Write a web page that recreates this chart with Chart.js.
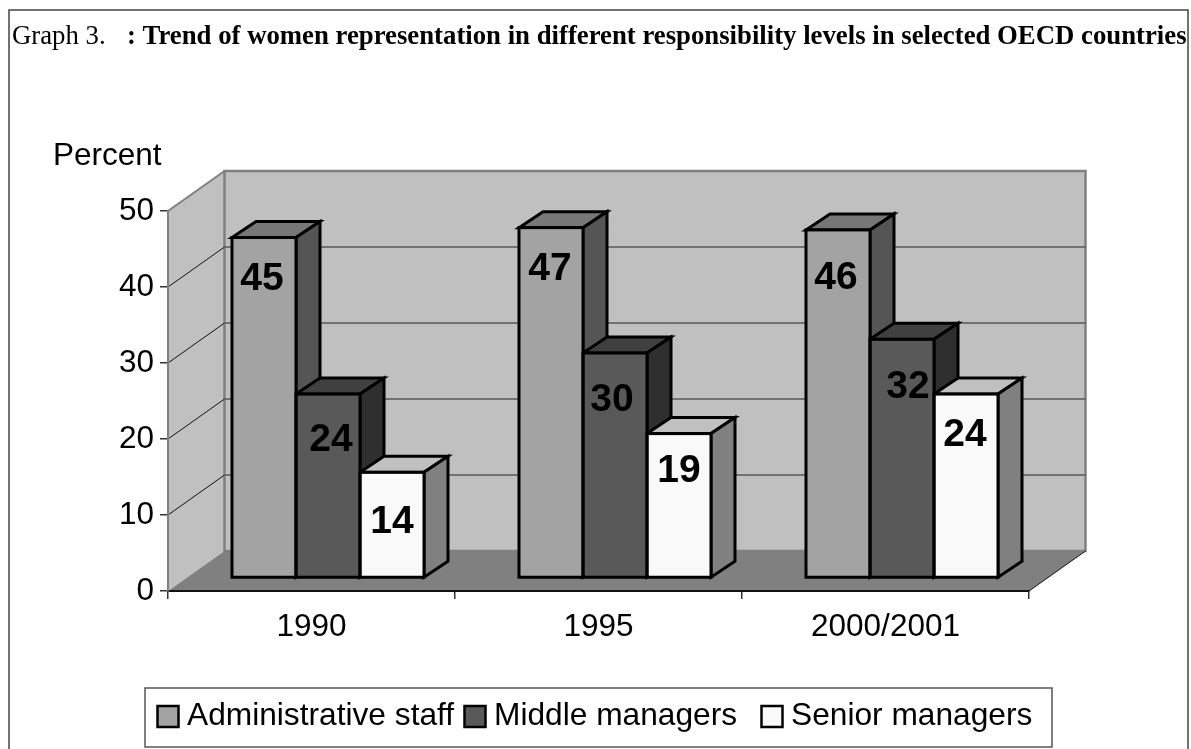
<!DOCTYPE html>
<html>
<head>
<meta charset="utf-8">
<style>
  html, body { margin: 0; padding: 0; background: #fff; }
  #wrap { width: 1191px; height: 749px; position: relative; overflow: hidden; }
</style>
<script src="https://cdn.jsdelivr.net/npm/chart.js@4"></script>
</head>
<body>
<div id="wrap"><canvas id="newChart" width="1191" height="749"></canvas></div>
<script>
var categories = ['1990', '1995', '2000/2001'];
var seriesNames = ['Administrative staff', 'Middle managers', 'Senior managers'];
// bar heights
var adminValues = [44.8, 46.1, 45.8];
var middleValues = [24.2, 29.6, 31.4];
var seniorValues = [13.9, 19, 24.2];
// numbers printed on the bars (the source prints 47 on a bar drawn nearer 46)
var adminLabels = ['45', '47', '46'];
var middleLabels = ['24', '30', '32'];
var seniorLabels = ['14', '19', '24'];
var yTicks = [0, 10, 20, 30, 40, 50];

var frontColors = ['#a3a3a3', '#595959', '#f9f9f9'];
var topColors = ['#777777', '#404040', '#c0c0c0'];
var sideColors = ['#555555', '#2f2f2f', '#808080'];
var barLabels = [adminLabels, middleLabels, seniorLabels];
// the source placed its labels by hand, so small per-label shifts from the default spot
var labelNudge = [
  [[-2, 0], [-1, 0], [-2, 6]],
  [[3, 4], [-3, 5], [6, 6]],
  [[0, 8], [0, -4], [-1, -1]]
];

var SANS = '"Liberation Sans", Arial, sans-serif';
var SERIF = '"Liberation Serif", "Times New Roman", serif';
// wall depth of the fake 3D box, bars sit part way into it
var wallDx = 56.5, wallDy = 40;
var barDx = 16.5, barDy = 13;
var barDepthX = 24, barDepthY = 16;

function poly(ctx, pts, fill, stroke, lineWidth) {
  ctx.beginPath();
  ctx.moveTo(pts[0][0], pts[0][1]);
  for (let i = 1; i < pts.length; i++) ctx.lineTo(pts[i][0], pts[i][1]);
  ctx.closePath();
  if (fill) { ctx.fillStyle = fill; ctx.fill(); }
  if (stroke) { ctx.strokeStyle = stroke; ctx.lineWidth = lineWidth; ctx.stroke(); }
}

function line(ctx, x1, y1, x2, y2, color, lineWidth) {
  ctx.beginPath();
  ctx.moveTo(x1, y1);
  ctx.lineTo(x2, y2);
  ctx.strokeStyle = color;
  ctx.lineWidth = lineWidth;
  ctx.stroke();
}

var box3d = {
  id: 'box3d',
  beforeDraw: function(chart) {
    var ctx = chart.ctx, a = chart.chartArea, y = chart.scales.y;
    ctx.save();
    // page frame
    ctx.fillStyle = '#fff';
    ctx.fillRect(0, 0, chart.width, chart.height);
    ctx.strokeStyle = '#444';
    ctx.lineWidth = 1.5;
    ctx.strokeRect(9, 10, 1179, 760);
    // title, half regular half bold
    ctx.fillStyle = '#000';
    ctx.textBaseline = 'alphabetic';
    ctx.textAlign = 'left';
    ctx.font = '26.75px ' + SERIF;
    ctx.fillText('Graph 3.', 12, 44);
    ctx.font = 'bold 26.75px ' + SERIF;
    ctx.fillText(': Trend of women representation in different responsibility levels in selected OECD countries', 127, 44);
    ctx.font = '31.5px ' + SANS;
    ctx.fillText('Percent', 53, 165);
    // walls and floor
    var l = a.left, r = a.right, t = a.top, b = a.bottom;
    poly(ctx, [[l, t], [l + wallDx, t - wallDy], [l + wallDx, b - wallDy], [l, b]], '#c0c0c0');
    poly(ctx, [[l + wallDx, t - wallDy], [r + wallDx, t - wallDy], [r + wallDx, b - wallDy], [l + wallDx, b - wallDy]], '#c0c0c0', '#808080', 2.5);
    line(ctx, l, t, l + wallDx, t - wallDy, '#808080', 2);
    poly(ctx, [[l, b], [r, b], [r + wallDx, b - wallDy], [l + wallDx, b - wallDy]], '#808080');
    line(ctx, r, b, r + wallDx, b - wallDy, '#111', 1);
    // gridlines run along the left wall then the back wall
    yTicks.forEach(function(v) {
      if (v === 0 || v === 50) return;
      var py = y.getPixelForValue(v);
      line(ctx, l, py, l + wallDx, py - wallDy, '#111', 1);
      line(ctx, l + wallDx, py - wallDy, r + wallDx, py - wallDy, '#595959', 1.5);
    });
    ctx.restore();
  },
  beforeDatasetsDraw: function(chart) {
    var ctx = chart.ctx;
    ctx.save();
    ctx.translate(barDx, -barDy);
    // tops and sides first, left bar first, the library then paints the fronts over them
    chart.data.datasets.forEach(function(ds, i) {
      chart.getDatasetMeta(i).data.forEach(function(bar) {
        var x0 = bar.x - bar.width / 2, x1 = bar.x + bar.width / 2;
        var top = bar.y, base = bar.base;
        poly(ctx, [[x0, top], [x1, top], [x1 + barDepthX, top - barDepthY], [x0 + barDepthX, top - barDepthY]], topColors[i], '#000', 3);
        poly(ctx, [[x1, top], [x1 + barDepthX, top - barDepthY], [x1 + barDepthX, base - barDepthY], [x1, base]], sideColors[i], '#000', 3);
      });
    });
  },
  afterDatasetsDraw: function(chart) {
    var ctx = chart.ctx;
    ctx.save();
    chart.data.datasets.forEach(function(ds, i) {
      chart.getDatasetMeta(i).data.forEach(function(bar, j) {
        ctx.strokeStyle = '#000';
        ctx.lineWidth = 3;
        ctx.strokeRect(bar.x - bar.width / 2, bar.y, bar.width, bar.base - bar.y);
      });
    });
    ctx.fillStyle = '#000';
    ctx.font = 'bold 39px ' + SANS;
    ctx.textAlign = 'center';
    ctx.textBaseline = 'middle';
    chart.data.datasets.forEach(function(ds, i) {
      chart.getDatasetMeta(i).data.forEach(function(bar, j) {
        ctx.fillText(barLabels[i][j], bar.x + labelNudge[i][j][0], bar.y + 42 + labelNudge[i][j][1]);
      });
    });
    ctx.restore();
    ctx.restore();
    drawLegend(chart);
  }
};

// boxed legend at the bottom, spacing is uneven in the source
function drawLegend(chart) {
  var ctx = chart.ctx;
  var swatchX = [157.5, 464.5, 761.5];
  ctx.save();
  ctx.fillStyle = '#fff';
  ctx.strokeStyle = '#555';
  ctx.lineWidth = 1.5;
  ctx.fillRect(145, 688, 907, 59);
  ctx.strokeRect(145, 688, 907, 59);
  ctx.font = '31.7px ' + SANS;
  ctx.textBaseline = 'alphabetic';
  ctx.textAlign = 'left';
  seriesNames.forEach(function(name, i) {
    ctx.fillStyle = frontColors[i];
    ctx.fillRect(swatchX[i], 706, 21, 21);
    ctx.strokeStyle = '#000';
    ctx.lineWidth = 2.5;
    ctx.strokeRect(swatchX[i], 706, 21, 21);
    ctx.fillStyle = '#000';
    ctx.fillText(name, swatchX[i] + 29.5, 725);
  });
  ctx.restore();
}

function makeDataset(i, values) {
  return {
    label: seriesNames[i],
    data: values,
    backgroundColor: frontColors[i],
    borderWidth: 0,
    categoryPercentage: 0.669,
    barPercentage: 1,
    clip: false
  };
}

window.onload = pageReady;

function pageReady() {
  var ctx = document.getElementById('newChart');
  new Chart(ctx, {
    type: 'bar',
    data: {
      labels: categories,
      datasets: [
        makeDataset(0, adminValues),
        makeDataset(1, middleValues),
        makeDataset(2, seniorValues)
      ]
    },
    options: {
      responsive: false,
      animation: false,
      layout: { padding: { left: 0, top: 211, right: 162, bottom: 0 } },
      plugins: { legend: { display: false }, tooltip: { enabled: false } },
      scales: {
        x: {
          afterFit: function(scale) { scale.height = 158; },
          grid: { drawOnChartArea: false, drawTicks: true, tickLength: 8, color: '#333', lineWidth: 1.5 },
          border: { display: true, color: '#111', width: 2 },
          ticks: { color: '#000', padding: 9, maxRotation: 0, font: { family: SANS, size: 31.5 } }
        },
        y: {
          min: 0,
          max: 50,
          afterFit: function(scale) { scale.width = 168; },
          afterBuildTicks: function(scale) {
            scale.ticks = yTicks.map(function(v) { return { value: v }; });
          },
          grid: { drawOnChartArea: false, drawTicks: true, tickLength: 8, color: '#333', lineWidth: 1.5 },
          border: { display: true, color: '#808080', width: 2 },
          ticks: { color: '#000', padding: 6, font: { family: SANS, size: 31.5 } }
        }
      }
    },
    plugins: [box3d]
  });
}
</script>
</body>
</html>
